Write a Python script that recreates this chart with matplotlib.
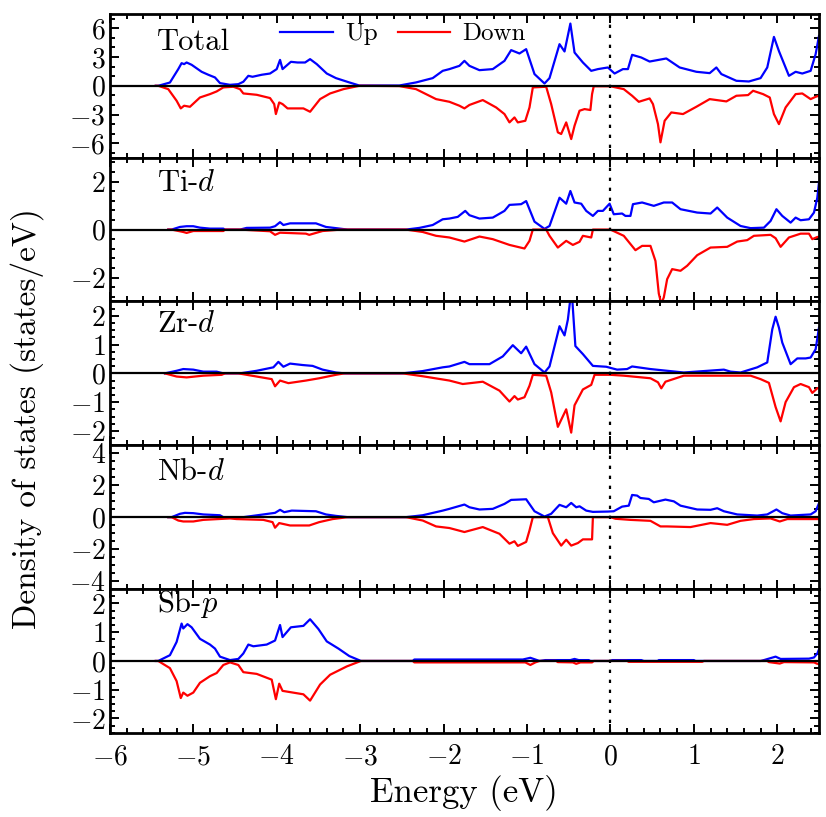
import numpy as np
import matplotlib.pyplot as plt
from matplotlib.ticker import MultipleLocator

plt.rcParams['font.family'] = 'serif'
plt.rcParams['font.serif'] = ['cmr10']
plt.rcParams['mathtext.fontset'] = 'cm'
plt.rcParams['axes.formatter.use_mathtext'] = True

# (energy in eV, DOS in states/eV)
total_up = [(-5.45, 0), (-5.42, 0), (-5.28, 0.34), (-5.18, 1.74), (-5.14, 2.36), (-5.11, 2.26), (-5.08, 2.43),
            (-5.02, 2.19), (-4.90, 1.46), (-4.82, 1.15), (-4.74, 0.87), (-4.68, 0.28), (-4.56, 0.10), (-4.46, 0.17),
            (-4.40, 0.42), (-4.34, 1.04), (-4.29, 0.94), (-4.18, 1.15), (-4.08, 1.28), (-4.00, 1.74), (-3.96, 2.70),
            (-3.93, 1.74), (-3.83, 2.50), (-3.75, 2.43), (-3.66, 2.43), (-3.60, 2.78), (-3.52, 2.26), (-3.40, 1.28),
            (-3.29, 0.80), (-3.13, 0.35), (-3.01, 0.03), (-2.53, 0.03), (-2.33, 0.35), (-2.13, 0.80), (-2.01, 1.56),
            (-1.93, 1.74), (-1.81, 2.08), (-1.75, 2.60), (-1.69, 2.08), (-1.57, 1.63), (-1.41, 1.74), (-1.27, 2.60),
            (-1.19, 3.72), (-1.09, 3.37), (-1.01, 3.82), (-0.91, 1.22), (-0.79, 0.24), (-0.73, 0.80), (-0.61, 4.34),
            (-0.55, 3.58), (-0.48, 6.49), (-0.43, 3.47), (-0.33, 2.43), (-0.23, 1.56), (-0.15, 1.74), (-0.03, 1.91),
            (0.05, 1.28), (0.15, 1.74), (0.21, 1.74), (0.26, 3.23), (0.37, 2.95), (0.47, 2.53), (0.67, 2.85),
            (0.83, 1.91), (1.03, 1.46), (1.19, 1.32), (1.27, 1.91), (1.33, 1.22), (1.51, 0.52), (1.66, 0.45),
            (1.80, 0.80), (1.88, 1.91), (1.96, 5.10), (2.02, 3.62), (2.14, 1.04), (2.22, 1.46), (2.30, 1.28),
            (2.40, 1.56), (2.46, 3.30), (2.50, 5.20)]
total_dn = [(-5.45, 0), (-5.42, 0), (-5.30, -0.35), (-5.20, -1.56), (-5.15, -2.36), (-5.11, -2.08), (-5.04, -2.19),
            (-4.92, -1.22), (-4.80, -0.87), (-4.72, -0.59), (-4.64, -0.17), (-4.52, -0.10), (-4.44, -0.35),
            (-4.40, -0.80), (-4.24, -0.94), (-4.08, -1.28), (-4.03, -1.91), (-4.01, -2.95), (-3.97, -1.74),
            (-3.93, -1.91), (-3.87, -2.36), (-3.68, -2.36), (-3.60, -2.71), (-3.48, -1.39), (-3.36, -0.80),
            (-3.20, -0.35), (-3.01, 0), (-2.53, -0.03), (-2.33, -0.35), (-2.09, -1.39), (-1.93, -1.67),
            (-1.81, -2.08), (-1.75, -2.36), (-1.69, -2.00), (-1.53, -1.49), (-1.37, -2.26), (-1.27, -2.95),
            (-1.21, -3.82), (-1.15, -3.30), (-1.11, -3.82), (-1.02, -3.65), (-0.97, -2.26), (-0.93, -0.17),
            (-0.77, -0.10), (-0.71, -1.91), (-0.63, -4.86), (-0.59, -5.03), (-0.53, -3.82), (-0.47, -5.56),
            (-0.43, -4.17), (-0.37, -2.60), (-0.31, -2.43), (-0.24, -2.53), (-0.22, -0.87), (-0.20, -0.05),
            (0.00, -0.05), (0.16, -0.35), (0.26, -1.04), (0.34, -1.67), (0.47, -1.32), (0.51, -1.91), (0.57, -4.00),
            (0.60, -5.90), (0.65, -3.65), (0.73, -2.78), (0.87, -2.95), (1.03, -2.19), (1.19, -1.39), (1.39, -1.63),
            (1.51, -1.04), (1.65, -0.97), (1.71, -0.52), (1.83, -0.87), (1.91, -1.22), (1.96, -2.95), (2.02, -4.00),
            (2.10, -2.26), (2.22, -0.87), (2.30, -0.80), (2.40, -1.39), (2.46, -1.15), (2.50, -1.04)]

ti_up = [(-5.30, 0), (-5.26, 0), (-5.16, 0.11), (-5.08, 0.14), (-5.00, 0.14), (-4.92, 0.08), (-4.80, 0.04),
         (-4.64, 0.04), (-4.62, 0), (-4.44, 0), (-4.36, 0.07), (-4.08, 0.08), (-4.02, 0.14), (-3.96, 0.31),
         (-3.92, 0.19), (-3.84, 0.26), (-3.53, 0.26), (-3.41, 0.11), (-3.29, 0.06), (-3.15, 0), (-2.45, 0),
         (-2.29, 0.07), (-2.13, 0.19), (-2.01, 0.43), (-1.93, 0.46), (-1.83, 0.53), (-1.74, 0.78), (-1.69, 0.60),
         (-1.57, 0.46), (-1.41, 0.50), (-1.27, 0.78), (-1.21, 1.03), (-1.07, 1.06), (-1.01, 1.19), (-0.91, 0.33),
         (-0.79, 0.03), (-0.73, 0.15), (-0.61, 1.33), (-0.53, 1.08), (-0.48, 1.61), (-0.43, 1.13), (-0.35, 1.08),
         (-0.29, 0.78), (-0.21, 0.57), (-0.15, 0.78), (-0.09, 0.78), (-0.01, 1.08), (0.04, 0.64), (0.14, 0.67),
         (0.18, 0.57), (0.24, 0.57), (0.27, 1.06), (0.38, 1.13), (0.52, 0.99), (0.64, 1.13), (0.74, 1.13),
         (0.84, 0.85), (1.04, 0.71), (1.20, 0.67), (1.28, 0.92), (1.40, 0.50), (1.56, 0.15), (1.68, 0.06),
         (1.84, 0.08), (1.92, 0.36), (1.99, 0.85), (2.06, 0.57), (2.16, 0.29), (2.22, 0.50), (2.28, 0.39),
         (2.38, 0.43), (2.44, 0.71), (2.48, 1.33), (2.50, 1.96)]
ti_dn = [(-5.30, 0), (-5.26, 0), (-5.12, -0.10), (-5.08, -0.14), (-5.00, -0.06), (-4.64, -0.06), (-4.62, 0),
         (-4.44, 0), (-4.08, -0.07), (-4.02, -0.22), (-3.96, -0.13), (-3.65, -0.17), (-3.61, -0.22), (-3.53, -0.14),
         (-3.45, -0.06), (-3.23, 0), (-2.45, 0), (-2.25, -0.10), (-2.09, -0.26), (-1.93, -0.33), (-1.75, -0.50),
         (-1.57, -0.29), (-1.41, -0.40), (-1.21, -0.64), (-1.03, -0.79), (-0.97, -0.47), (-0.93, 0), (-0.77, 0),
         (-0.73, -0.26), (-0.63, -0.75), (-0.53, -0.47), (-0.45, -0.64), (-0.37, -0.51), (-0.33, -0.26),
         (-0.23, -0.33), (-0.21, 0), (0.00, 0), (0.16, -0.26), (0.30, -0.86), (0.38, -0.68), (0.48, -0.68),
         (0.54, -1.31), (0.58, -2.67), (0.61, -3.10), (0.64, -2.83), (0.68, -2.07), (0.74, -1.65), (0.84, -1.72),
         (0.92, -1.51), (1.04, -1.07), (1.20, -0.75), (1.40, -0.72), (1.52, -0.50), (1.64, -0.44), (1.72, -0.26),
         (1.92, -0.22), (1.98, -0.36), (2.04, -0.72), (2.14, -0.33), (2.28, -0.17), (2.38, -0.17), (2.42, -0.40),
         (2.48, -0.31), (2.50, -0.30)]

zr_up = [(-5.34, 0), (-5.20, 0.09), (-5.12, 0.15), (-5.00, 0.13), (-4.88, 0.06), (-4.72, 0.06), (-4.64, 0),
         (-4.44, 0), (-4.24, 0.09), (-4.04, 0.21), (-3.98, 0.40), (-3.92, 0.23), (-3.84, 0.34), (-3.69, 0.29),
         (-3.57, 0.26), (-3.45, 0.13), (-3.29, 0.03), (-3.19, 0), (-2.49, 0), (-2.25, 0.08), (-2.01, 0.21),
         (-1.93, 0.24), (-1.75, 0.40), (-1.69, 0.32), (-1.45, 0.32), (-1.29, 0.59), (-1.17, 0.98), (-1.07, 0.70),
         (-1.01, 0.93), (-0.91, 0.32), (-0.79, 0.03), (-0.73, 0.24), (-0.61, 1.64), (-0.55, 1.32), (-0.51, 1.87),
         (-0.48, 2.60), (-0.46, 2.70), (-0.42, 0.95), (-0.33, 0.67), (-0.21, 0.26), (-0.05, 0.23), (0.08, 0.13),
         (0.20, 0.15), (0.26, 0.24), (0.48, 0.15), (0.88, 0.03), (1.36, 0.13), (1.44, 0.06), (1.56, 0.03),
         (1.76, 0.21), (1.88, 0.38), (1.94, 1.53), (1.98, 1.97), (2.02, 1.59), (2.06, 1.07), (2.16, 0.32),
         (2.24, 0.52), (2.34, 0.52), (2.40, 0.55), (2.46, 0.84), (2.50, 1.59)]
zr_dn = [(-5.34, 0), (-5.20, -0.11), (-5.08, -0.14), (-4.88, -0.08), (-4.66, -0.05), (-4.62, 0), (-4.46, 0),
         (-4.24, -0.11), (-4.06, -0.20), (-4.02, -0.45), (-3.96, -0.25), (-3.86, -0.34), (-3.65, -0.25),
         (-3.49, -0.17), (-3.29, -0.05), (-3.19, 0), (-2.49, 0), (-2.25, -0.10), (-1.93, -0.25), (-1.77, -0.37),
         (-1.53, -0.29), (-1.33, -0.60), (-1.21, -0.98), (-1.15, -0.79), (-1.11, -0.91), (-1.03, -0.83),
         (-0.97, -0.43), (-0.93, -0.05), (-0.77, -0.08), (-0.71, -0.66), (-0.63, -1.86), (-0.53, -1.25),
         (-0.47, -2.06), (-0.43, -1.11), (-0.33, -0.56), (-0.23, -0.40), (-0.19, -0.05), (0.00, -0.05),
         (0.16, -0.08), (0.48, -0.17), (0.57, -0.31), (0.61, -0.52), (0.66, -0.29), (0.88, -0.08), (1.68, -0.08),
         (1.80, -0.20), (1.90, -0.33), (1.98, -1.17), (2.04, -1.67), (2.10, -1.00), (2.20, -0.48), (2.28, -0.37),
         (2.38, -0.48), (2.42, -0.68), (2.48, -0.52), (2.50, -0.50)]

nb_up = [(-5.30, 0), (-5.26, 0), (-5.16, 0.21), (-5.10, 0.27), (-5.00, 0.25), (-4.88, 0.17), (-4.68, 0.12),
         (-4.64, 0), (-4.40, 0), (-4.16, 0.17), (-4.02, 0.27), (-3.96, 0.46), (-3.91, 0.31), (-3.82, 0.41),
         (-3.53, 0.37), (-3.41, 0.17), (-3.29, 0.08), (-3.15, 0), (-2.45, 0), (-2.25, 0.12), (-2.01, 0.41),
         (-1.93, 0.52), (-1.75, 0.79), (-1.69, 0.62), (-1.57, 0.48), (-1.41, 0.52), (-1.27, 0.83), (-1.19, 1.08),
         (-1.01, 1.12), (-0.91, 0.37), (-0.79, 0.04), (-0.71, 0.21), (-0.61, 0.77), (-0.53, 0.62), (-0.47, 0.89),
         (-0.41, 0.62), (-0.37, 0.68), (-0.29, 0.41), (-0.21, 0.33), (-0.03, 0.35), (0.04, 0.37), (0.14, 0.66),
         (0.22, 0.72), (0.26, 1.39), (0.32, 1.35), (0.36, 1.20), (0.46, 1.14), (0.52, 0.93), (0.66, 1.10),
         (0.76, 0.99), (0.84, 0.72), (1.04, 0.48), (1.20, 0.46), (1.28, 0.56), (1.36, 0.37), (1.52, 0.17),
         (1.76, 0.10), (1.88, 0.17), (1.99, 0.48), (2.06, 0.25), (2.16, 0.10), (2.40, 0.17), (2.46, 0.37),
         (2.50, 0.87)]
nb_dn = [(-5.30, 0), (-5.26, 0), (-5.18, -0.21), (-5.12, -0.27), (-5.00, -0.27), (-4.88, -0.17), (-4.56, -0.08),
         (-4.48, -0.12), (-4.16, -0.17), (-4.05, -0.31), (-4.02, -0.66), (-3.97, -0.37), (-3.84, -0.52),
         (-3.61, -0.52), (-3.49, -0.31), (-3.33, -0.12), (-3.15, 0), (-2.45, 0), (-2.25, -0.21), (-2.09, -0.58),
         (-1.93, -0.68), (-1.75, -0.93), (-1.53, -0.62), (-1.33, -1.04), (-1.21, -1.66), (-1.15, -1.51),
         (-1.11, -1.80), (-1.01, -1.55), (-0.97, -0.83), (-0.93, 0), (-0.75, 0), (-0.69, -1.00), (-0.59, -1.78),
         (-0.53, -1.41), (-0.47, -1.78), (-0.39, -1.62), (-0.33, -1.39), (-0.22, -1.39), (-0.21, 0), (0.00, 0),
         (0.06, -0.10), (0.24, -0.17), (0.48, -0.23), (0.60, -0.58), (0.68, -0.58), (0.96, -0.62), (1.20, -0.37),
         (1.40, -0.48), (1.56, -0.23), (1.72, -0.12), (1.92, -0.08), (2.03, -0.27), (2.12, -0.12), (2.50, -0.12)]

sb_up = [(-5.45, 0), (-5.42, 0), (-5.28, 0.20), (-5.20, 0.66), (-5.14, 1.30), (-5.12, 1.13), (-5.07, 1.28),
         (-5.02, 1.17), (-4.92, 0.77), (-4.80, 0.57), (-4.74, 0.43), (-4.68, 0.15), (-4.56, 0.03), (-4.46, 0.07),
         (-4.40, 0.26), (-4.34, 0.57), (-4.28, 0.51), (-4.12, 0.57), (-4.02, 0.71), (-3.96, 1.25), (-3.93, 0.83),
         (-3.83, 1.17), (-3.68, 1.22), (-3.60, 1.45), (-3.50, 1.11), (-3.40, 0.68), (-3.26, 0.43), (-3.13, 0.17),
         (-2.99, 0), (-2.37, 0), (-2.35, 0.05), (-1.05, 0.05), (-0.96, 0.11), (-0.90, 0.05), (-0.85, 0),
         (-0.78, 0.03), (-0.48, 0.03), (-0.43, 0.07), (-0.38, 0.03), (-0.26, 0.03), (-0.24, 0), (0.00, 0),
         (0.02, 0.03), (0.37, 0.03), (0.40, 0), (0.57, 0), (0.58, 0.03), (1.00, 0.03), (1.02, 0), (1.80, 0),
         (1.84, 0.03), (1.98, 0.15), (2.04, 0.07), (2.38, 0.08), (2.44, 0.12), (2.48, 0.26), (2.50, 0.40)]
sb_dn = [(-5.45, 0), (-5.42, 0), (-5.28, -0.25), (-5.20, -0.70), (-5.15, -1.29), (-5.12, -1.10), (-5.07, -1.21),
         (-5.00, -1.10), (-4.92, -0.76), (-4.80, -0.53), (-4.72, -0.42), (-4.64, -0.14), (-4.56, -0.05),
         (-4.46, -0.14), (-4.40, -0.39), (-4.24, -0.45), (-4.06, -0.65), (-4.01, -1.33), (-3.97, -0.79),
         (-3.93, -1.04), (-3.68, -1.16), (-3.60, -1.38), (-3.48, -0.82), (-3.36, -0.48), (-3.16, -0.19),
         (-2.99, 0), (-2.37, 0), (-2.35, -0.05), (-1.02, -0.05), (-0.96, -0.14), (-0.90, -0.05), (-0.85, 0),
         (-0.65, 0), (-0.63, -0.04), (-0.45, -0.05), (-0.41, -0.10), (-0.36, -0.05), (-0.22, -0.05), (-0.20, 0),
         (0.20, 0), (0.22, -0.03), (1.10, -0.03), (1.12, 0), (1.88, 0), (1.90, -0.04), (2.03, -0.09),
         (2.08, -0.04), (2.44, -0.05), (2.48, -0.10), (2.50, -0.10)]

panel_names = ['Total', 'Ti-$d$', 'Zr-$d$', 'Nb-$d$', 'Sb-$p$']
panel_ylim = [7.5, 3.0, 2.5, 4.5, 2.5]
panel_major = [3, 2, 1, 2, 1]
panel_minor = [1, 0.4, 0.25, 0.5, 0.25]
panel_up = [total_up, ti_up, zr_up, nb_up, sb_up]
panel_dn = [total_dn, ti_dn, zr_dn, nb_dn, sb_dn]

label_y = [0.75, 0.765, 0.79, 0.76, 0.84]

fig, axes = plt.subplots(5, 1, figsize=(8.26, 8.17), dpi=100, sharex=True)
fig.subplots_adjust(left=0.133, right=0.9915, top=0.983, bottom=0.103, hspace=0)

for i, ax in enumerate(axes):
    up = np.array(panel_up[i])
    dn = np.array(panel_dn[i])
    l1, = ax.plot(up[:, 0], up[:, 1], color='#0000ff', lw=1.6, label='Up')
    l2, = ax.plot(dn[:, 0], dn[:, 1], color='#ff0000', lw=1.6, label='Down')
    ax.axhline(0, color='black', lw=1.6, zorder=3)
    ax.axvline(0, color='black', lw=1.6, ls=(0, (1.5, 3)), zorder=3)
    ax.set_xlim(-6, 2.5)
    ax.set_ylim(-panel_ylim[i], panel_ylim[i])
    ax.yaxis.set_major_locator(MultipleLocator(panel_major[i]))
    ax.yaxis.set_minor_locator(MultipleLocator(panel_minor[i]))
    ax.xaxis.set_major_locator(MultipleLocator(1))
    ax.xaxis.set_minor_locator(MultipleLocator(0.2))
    ax.tick_params(which='both', direction='in', top=True, right=True, labelsize=20, width=1.4)
    ax.tick_params(which='major', length=6.5)
    ax.tick_params(which='minor', length=3.5)
    ax.tick_params(axis='x', which='major', pad=8)
    ax.tick_params(axis='y', which='major', pad=3)
    for sp in ax.spines.values():
        sp.set_linewidth(2)
    ax.text(0.066, label_y[i], panel_names[i], transform=ax.transAxes, fontsize=22, va='baseline')
    if i == 0:
        ax.legend(handles=[l1, l2], loc='center left', bbox_to_anchor=(0.24, 0.86), ncol=2, frameon=False,
                  fontsize=18, handlelength=2.1, handletextpad=0.5, columnspacing=0.8, borderpad=0,
                  borderaxespad=0)

fig.text(0.033, 0.488, 'Density of states (states/eV)', rotation=90, ha='center', va='center', fontsize=24)
fig.text(0.562, 0.029, 'Energy (eV)', ha='center', va='center', fontsize=25)

fig.savefig('out.png', dpi=100)
